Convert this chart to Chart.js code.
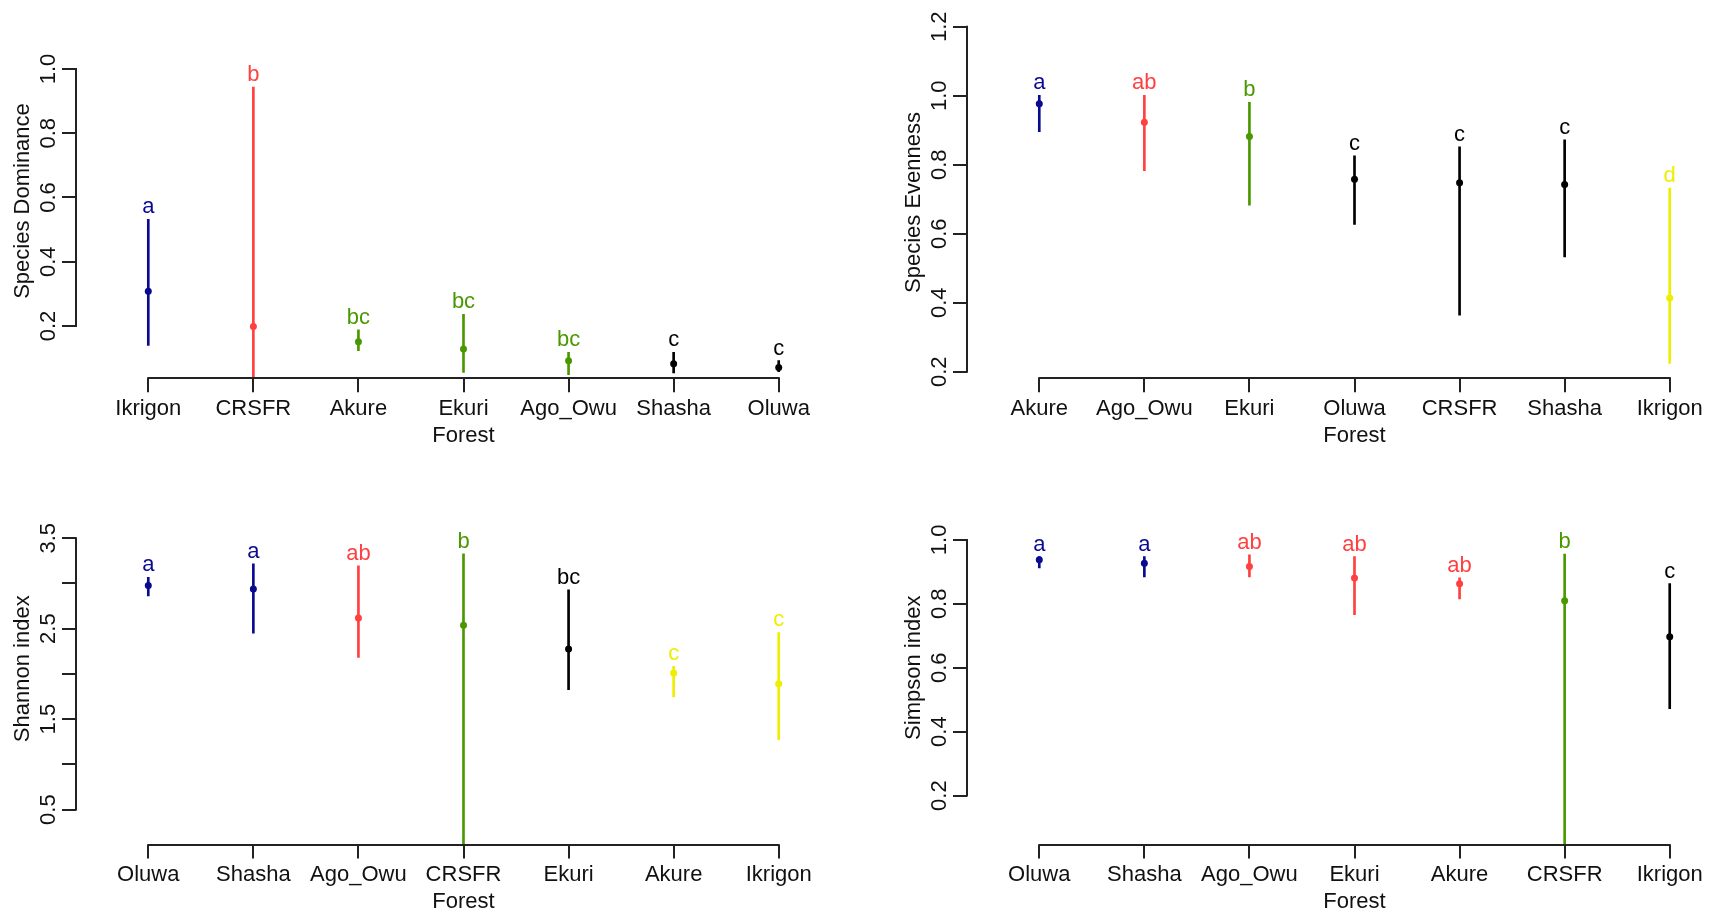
<!DOCTYPE html>
<html>
<head>
<meta charset="utf-8">
<title>Forest diversity indices</title>
<script src="https://cdn.jsdelivr.net/npm/chart.js@4.4.1/dist/chart.umd.min.js"></script>
<style>
  body { margin: 0; background: #fff; overflow: hidden; }
  #wrap { position: relative; width: 1715px; height: 915px; overflow: hidden; }
  canvas { position: absolute; }
</style>
</head>
<body>
<div id="wrap">
  <canvas id="dominance" width="857" height="457" style="left:0;top:0"></canvas>
  <canvas id="evenness" width="900" height="457" style="left:857px;top:0"></canvas>
  <canvas id="shannon" width="857" height="458" style="left:0;top:457px"></canvas>
  <canvas id="simpson" width="900" height="458" style="left:857px;top:457px"></canvas>
</div>
<script>
// Species dominance
var dominanceForests = ["Ikrigon", "CRSFR", "Akure", "Ekuri", "Ago_Owu", "Shasha", "Oluwa"];
var dominanceMean = [0.308, 0.198, 0.151, 0.128, 0.092, 0.082, 0.071];
var dominanceLower = [0.139, 0.03, 0.123, 0.055, 0.048, 0.054, 0.058];
var dominanceUpper = [0.532, 0.944, 0.188, 0.236, 0.118, 0.118, 0.092];
var dominanceLetters = ["a", "b", "bc", "bc", "bc", "c", "c"];
var dominanceTicks = [0.2, 0.4, 0.6, 0.8, 1.0];
var dominanceTickLabels = ["0.2", "0.4", "0.6", "0.8", "1.0"];

// Species evenness
var evennessForests = ["Akure", "Ago_Owu", "Ekuri", "Oluwa", "CRSFR", "Shasha", "Ikrigon"];
var evennessMean = [0.977, 0.923, 0.882, 0.758, 0.748, 0.743, 0.414];
var evennessLower = [0.896, 0.783, 0.683, 0.627, 0.364, 0.533, 0.224];
var evennessUpper = [1.001, 1.001, 0.981, 0.826, 0.852, 0.872, 0.732];
var evennessLetters = ["a", "ab", "b", "c", "c", "c", "d"];
var evennessTicks = [0.2, 0.4, 0.6, 0.8, 1.0, 1.2];
var evennessTickLabels = ["0.2", "0.4", "0.6", "0.8", "1.0", "1.2"];

// Shannon index
var shannonForests = ["Oluwa", "Shasha", "Ago_Owu", "CRSFR", "Ekuri", "Akure", "Ikrigon"];
var shannonMean = [2.977, 2.94, 2.617, 2.539, 2.274, 2.009, 1.891];
var shannonLower = [2.863, 2.451, 2.182, 0.0, 1.825, 1.745, 1.273];
var shannonUpper = [3.069, 3.216, 3.194, 3.327, 2.929, 2.083, 2.458];
var shannonLetters = ["a", "a", "ab", "b", "bc", "c", "c"];
var shannonTicks = [0.5, 1.0, 1.5, 2.0, 2.5, 3.0, 3.5];
var shannonTickLabels = ["0.5", "", "1.5", "", "2.5", "", "3.5"];

// Simpson index
var simpsonForests = ["Oluwa", "Shasha", "Ago_Owu", "Ekuri", "Akure", "CRSFR", "Ikrigon"];
var simpsonMean = [0.938, 0.927, 0.917, 0.881, 0.863, 0.81, 0.697];
var simpsonLower = [0.912, 0.884, 0.884, 0.766, 0.815, 0.0, 0.472];
var simpsonUpper = [0.948, 0.948, 0.953, 0.948, 0.881, 0.956, 0.863];
var simpsonLetters = ["a", "a", "ab", "ab", "ab", "b", "c"];
var simpsonTicks = [0.2, 0.4, 0.6, 0.8, 1.0];
var simpsonTickLabels = ["0.2", "0.4", "0.6", "0.8", "1.0"];

// one colour per letter group, in order of first appearance
var groupPalette = ["#0a0a90", "#ff4040", "#4a9800", "#000000", "#eeee00"];
var textColor = "#111111";
var axisColor = "#222222";
var fontFamily = "'Liberation Sans', Arial, sans-serif";
var fontSize = 22;

function groupColors(letters) {
    var groups = [];
    for (var l of letters) {
        if (groups.indexOf(l) < 0) groups.push(l);
    }
    return letters.map(function(l) { return groupPalette[groups.indexOf(l)]; });
}

// R style axes: lines only run from the first to the last tick
var rAxesPlugin = {
    id: "rAxes",
    afterDraw: function(chart) {
        var ctx = chart.ctx;
        var xs = chart.scales.x;
        var ys = chart.scales.y;
        var area = chart.chartArea;
        var bottom = Math.round(area.bottom);
        var left = Math.round(area.left);
        ctx.save();
        ctx.strokeStyle = axisColor;
        ctx.lineWidth = 2;
        ctx.lineCap = "square";
        ctx.beginPath();
        ctx.moveTo(xs.getPixelForValue(xs.ticks[0].value), bottom);
        ctx.lineTo(xs.getPixelForValue(xs.ticks[xs.ticks.length - 1].value), bottom);
        ctx.moveTo(left, ys.getPixelForValue(ys.ticks[0].value));
        ctx.lineTo(left, ys.getPixelForValue(ys.ticks[ys.ticks.length - 1].value));
        ctx.stroke();
        ctx.restore();
    }
};

// significance letters above each upper limit
var lettersPlugin = {
    id: "groupLetters",
    afterDatasetsDraw: function(chart, args, opts) {
        var ctx = chart.ctx;
        var xs = chart.scales.x;
        var ys = chart.scales.y;
        ctx.save();
        ctx.font = fontSize + "px " + fontFamily;
        ctx.textAlign = "center";
        ctx.textBaseline = "alphabetic";
        for (var i = 0; i < opts.letters.length; i++) {
            ctx.fillStyle = opts.colors[i];
            ctx.fillText(opts.letters[i], xs.getPixelForValue(i + 1), ys.getPixelForValue(opts.upper[i]) - 6);
        }
        ctx.restore();
    }
};

function makePanel(id, p) {
    var colors = groupColors(p.letters);
    var positions = p.forests.map(function(f, i) { return i + 1; });
    var bars = positions.map(function(x, i) { return { x: x, y: [p.lower[i], p.upper[i]] }; });
    var points = positions.map(function(x, i) { return { x: x, y: p.mean[i] }; });
    var font = { family: fontFamily, size: fontSize };

    return new Chart(document.getElementById(id), {
        type: "scatter",
        data: {
            datasets: [{
                type: "scatter",
                data: points,
                pointRadius: 3.5,
                pointBorderWidth: 0,
                pointBackgroundColor: colors,
                order: 0
            }, {
                type: "bar",
                data: bars,
                backgroundColor: colors,
                borderWidth: 0,
                barThickness: 2,
                order: 1
            }]
        },
        options: {
            responsive: false,
            animation: false,
            events: [],
            layout: { padding: p.pad },
            plugins: {
                legend: { display: false },
                tooltip: { enabled: false },
                groupLetters: { letters: p.letters, upper: p.upper, colors: colors }
            },
            scales: {
                x: {
                    type: "linear",
                    min: p.xMin,
                    max: p.xMax,
                    offset: false,
                    border: { display: false },
                    grid: { drawOnChartArea: false, color: axisColor, lineWidth: 2, tickLength: 14, offset: false },
                    afterBuildTicks: function(scale) {
                        scale.ticks = positions.map(function(v) { return { value: v }; });
                    },
                    afterFit: function(scale) { scale.height = 70.5; },
                    ticks: {
                        autoSkip: false,
                        maxRotation: 0,
                        padding: 3,
                        color: textColor,
                        font: font,
                        callback: function(v, i) { return p.forests[i]; }
                    },
                    title: {
                        display: true,
                        text: "Forest",
                        color: textColor,
                        font: font,
                        padding: { top: 0, bottom: 0 }
                    }
                },
                y: {
                    type: "linear",
                    min: p.yMin,
                    max: p.yMax,
                    border: { display: false },
                    grid: { drawOnChartArea: false, color: axisColor, lineWidth: 2, tickLength: 14 },
                    afterBuildTicks: function(scale) {
                        scale.ticks = p.ticks.map(function(v) { return { value: v }; });
                    },
                    afterFit: function(scale) { scale.width = 66; },
                    ticks: {
                        autoSkip: false,
                        minRotation: 90,
                        maxRotation: 90,
                        crossAlign: "center",
                        padding: -2,
                        color: textColor,
                        font: font,
                        callback: function(v, i) { return p.tickLabels[i]; }
                    },
                    title: {
                        display: true,
                        text: p.title,
                        color: textColor,
                        font: font,
                        padding: { top: 0, bottom: 0 }
                    }
                }
            }
        },
        plugins: [rAxesPlugin, lettersPlugin]
    });
}

makePanel("dominance", {
    forests: dominanceForests, mean: dominanceMean, lower: dominanceLower, upper: dominanceUpper,
    letters: dominanceLetters, ticks: dominanceTicks, tickLabels: dominanceTickLabels,
    title: "Species Dominance",
    yMin: 0.037, yMax: 1.141, xMin: 0.312, xMax: 7.688,
    pad: { top: 23.7, bottom: 8.2, left: 10, right: 6 }
});

makePanel("evenness", {
    forests: evennessForests, mean: evennessMean, lower: evennessLower, upper: evennessUpper,
    letters: evennessLetters, ticks: evennessTicks, tickLabels: evennessTickLabels,
    title: "Species Evenness",
    yMin: 0.181, yMax: 1.2, xMin: 0.312, xMax: 7.688,
    pad: { top: 26.7, bottom: 8.2, left: 44, right: 15 }
});

makePanel("shannon", {
    forests: shannonForests, mean: shannonMean, lower: shannonLower, upper: shannonUpper,
    letters: shannonLetters, ticks: shannonTicks, tickLabels: shannonTickLabels,
    title: "Shannon index",
    yMin: 0.114, yMax: 4.0, xMin: 0.312, xMax: 7.688,
    pad: { top: 36, bottom: 0, left: 10, right: 6 }
});

makePanel("simpson", {
    forests: simpsonForests, mean: simpsonMean, lower: simpsonLower, upper: simpsonUpper,
    letters: simpsonLetters, ticks: simpsonTicks, tickLabels: simpsonTickLabels,
    title: "Simpson index",
    yMin: 0.047, yMax: 1.153, xMin: 0.312, xMax: 7.688,
    pad: { top: 34, bottom: 0, left: 44, right: 15 }
});
</script>
</body>
</html>
